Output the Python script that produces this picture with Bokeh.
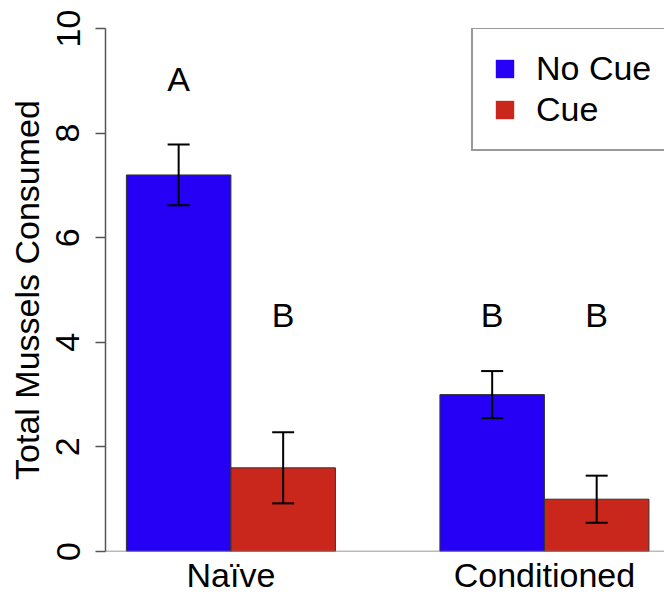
from bokeh.plotting import figure
from bokeh.models import (Range1d, FixedTicker, Span, Legend, LegendItem,
                          ColumnDataSource, Whisker, TeeHead)
from bokeh.embed import file_html
from bokeh.resources import INLINE
from bokeh.core.properties import value

# ---- data ----
categories = ["Naïve", "Conditioned"]
series = ["No Cue", "Cue"]
no_cue_mean = [7.2, 3.0]
no_cue_se = [0.58, 0.45]
cue_mean = [1.6, 1.0]
cue_se = [0.68, 0.45]
letters_no_cue = ["A", "B"]
letters_cue = ["B", "B"]
letter_y_no_cue = [9.04, 4.52]
letter_y_cue = [4.52, 4.52]
y_ticks = [0, 2, 4, 6, 8, 10]

FONT = "Liberation Sans"
BLUE = "#2500F5"
RED = "#C9261C"

# R barplot layout: groups of 2 bars (width 1) separated by 1
group_pos = [1 + i * 3 + 1 for i in range(len(categories))]
x_nc = [g - 0.5 for g in group_pos]
x_c = [g + 0.5 for g in group_pos]

p = figure(width=664, height=596, output_backend="svg", toolbar_location=None,
           x_range=Range1d(0.8, 6.149), y_range=Range1d(0, 10),
           min_border_left=105, min_border_right=0, min_border_top=28,
           min_border_bottom=45)
p.outline_line_color = None
p.xgrid.visible = False
p.ygrid.visible = False
p.background_fill_color = "white"

src_nc = ColumnDataSource(dict(x=x_nc, top=no_cue_mean,
                               upper=[m + s for m, s in zip(no_cue_mean, no_cue_se)],
                               lower=[m - s for m, s in zip(no_cue_mean, no_cue_se)],
                               lab=letters_no_cue, ly=letter_y_no_cue))
src_c = ColumnDataSource(dict(x=x_c, top=cue_mean,
                              upper=[m + s for m, s in zip(cue_mean, cue_se)],
                              lower=[m - s for m, s in zip(cue_mean, cue_se)],
                              lab=letters_cue, ly=letter_y_cue))

p.add_layout(Span(location=0, dimension="width", line_color="#777777", line_width=1.5))

p.vbar(x="x", top="top", bottom=0, width=1, source=src_nc,
       fill_color=BLUE, line_color="#333333", line_width=1)
p.vbar(x="x", top="top", bottom=0, width=1, source=src_c,
       fill_color=RED, line_color="#333333", line_width=1)

for src in (src_nc, src_c):
    w = Whisker(source=src, base="x", upper="upper", lower="lower",
                line_color="black", line_width=2, level="overlay",
                upper_head=TeeHead(size=22, line_width=2, line_color="black"),
                lower_head=TeeHead(size=22, line_width=2, line_color="black"))
    p.add_layout(w)
    p.text(x="x", y="ly", text="lab", source=src, text_align="center",
           text_baseline="middle", text_font=value(FONT),
           text_font_size="34px", text_color="black")

# legend with plain squares (proxy renderers placed outside the visible range)
r_leg_nc = p.vbar(x=[-10], top=[0], bottom=[0], width=1, fill_color=BLUE, line_color=None)
r_leg_c = p.vbar(x=[-10], top=[0], bottom=[0], width=1, fill_color=RED, line_color=None)
legend = Legend(items=[LegendItem(label=series[0], renderers=[r_leg_nc]),
                       LegendItem(label=series[1], renderers=[r_leg_c])],
                location=(366, 400), padding=20, spacing=2, margin=0,
                glyph_width=23, glyph_height=23, label_standoff=20,
                label_text_font=FONT, label_text_font_size="34px",
                label_text_color="black",
                border_line_color="#333333", border_line_width=2,
                background_fill_color="white", background_fill_alpha=1)
p.add_layout(legend)

# y axis
ya = p.yaxis[0]
ya.ticker = FixedTicker(ticks=y_ticks)
ya.bounds = (0, 10)
ya.major_label_orientation = "vertical"
ya.major_tick_out = 10
ya.major_tick_in = 0
ya.minor_tick_line_color = None
ya.axis_line_color = "#555555"
ya.axis_line_width = 1.5
ya.major_tick_line_color = "#555555"
ya.major_tick_line_width = 1.5
ya.major_label_text_font = FONT
ya.major_label_text_font_size = "34px"
ya.major_label_text_color = "black"
ya.major_label_standoff = 16
ya.axis_label = "Total Mussels Consumed"
ya.axis_label_text_font = FONT
ya.axis_label_text_font_size = "34px"
ya.axis_label_text_font_style = "normal"
ya.axis_label_text_color = "black"
ya.axis_label_standoff = 8

# x axis
xa = p.xaxis[0]
xa.ticker = FixedTicker(ticks=group_pos)
xa.major_label_overrides = {g: c for g, c in zip(group_pos, categories)}
xa.axis_line_color = None
xa.major_tick_line_color = None
xa.minor_tick_line_color = None
xa.major_tick_out = 0
xa.major_tick_in = 0
xa.major_label_standoff = 4
xa.major_label_text_font = FONT
xa.major_label_text_font_size = "34px"
xa.major_label_text_color = "black"

open("out.html", "w").write(file_html(p, INLINE))
